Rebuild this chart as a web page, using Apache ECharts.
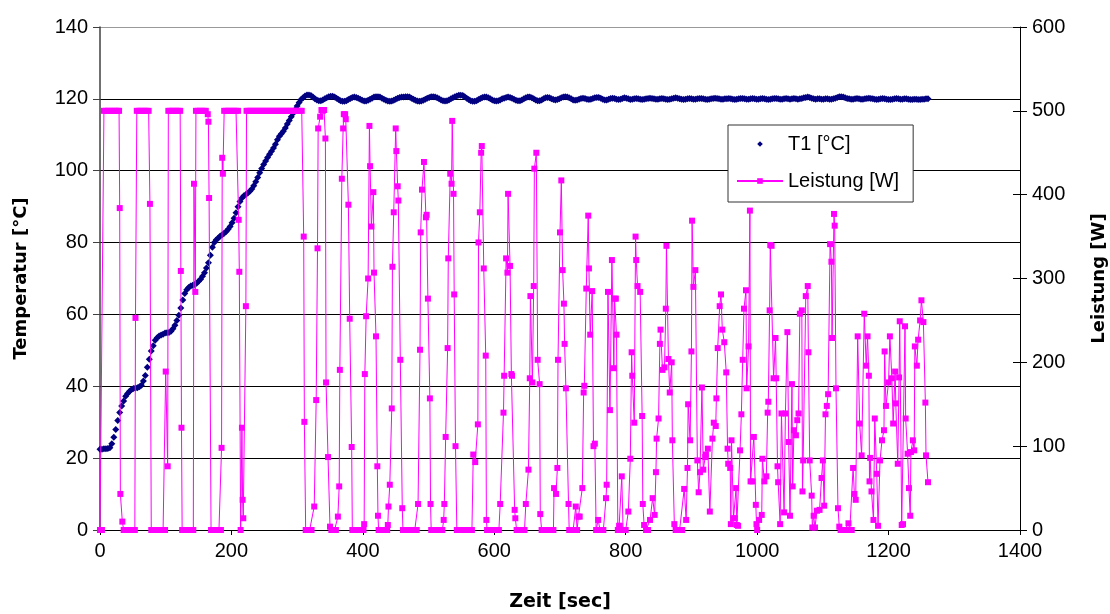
<!DOCTYPE html>
<html>
<head>
<meta charset="utf-8">
<script src="https://cdn.jsdelivr.net/npm/echarts@6/dist/echarts.min.js"></script>
<style>
html,body{margin:0;padding:0;background:#fff;}
#chart{width:1110px;height:614px;}
</style>
</head>
<body>
<div id="chart"></div>
<script>
// ---- data ----
const sampleInterval = 3; // seconds between T1 readings
const t1Values = [
22.5,22.5,22.6,22.6,22.7,22.9,24.0,25.8,28.0,30.5,
32.7,34.5,35.9,37.2,38.0,38.6,39.1,39.4,39.5,39.6,
39.9,40.3,41.5,43.0,45.3,47.5,49.8,51.3,52.8,53.5,
54.0,54.3,54.5,54.8,54.9,55.0,55.3,56.0,57.0,58.3,
59.8,61.8,64.0,65.8,66.9,67.5,67.9,68.1,68.3,68.7,
69.2,69.8,70.6,71.6,72.9,74.4,76.5,78.7,80.0,80.8,
81.3,81.8,82.2,82.6,83.1,83.7,84.5,85.5,86.8,88.3,
90.0,91.4,92.4,93.0,93.4,93.8,94.3,94.9,95.8,96.9,
98.1,99.4,100.6,101.7,102.7,103.7,104.6,105.4,106.3,107.4,
108.6,109.6,110.3,111.0,111.9,113.0,114.0,115.0,116.0,117.0,
118.0,119.0,119.8,120.3,120.8,121.1,121.1,120.9,120.5,120.0,
119.7,119.5,119.5,119.7,120.0,120.3,120.6,120.7,120.7,120.5,
120.2,119.8,119.5,119.3,119.3,119.5,119.8,120.1,120.4,120.5,
120.4,120.2,119.9,119.6,119.4,119.4,119.6,119.9,120.2,120.5,
120.6,120.6,120.5,120.2,119.9,119.6,119.4,119.3,119.4,119.6,
119.9,120.2,120.4,120.5,120.5,120.6,120.6,120.5,120.2,119.9,
119.6,119.4,119.3,119.4,119.6,119.9,120.2,120.4,120.6,120.6,
120.5,120.3,120.0,119.7,119.5,119.4,119.5,119.7,120.0,120.3,
120.6,120.8,121.0,121.0,120.9,120.6,120.2,119.8,119.5,119.3,
119.3,119.5,119.8,120.1,120.4,120.5,120.5,120.3,120.0,119.7,
119.5,119.4,119.5,119.7,120.0,120.2,120.4,120.5,120.4,120.2,
119.9,119.6,119.5,119.5,119.7,120.0,120.3,120.5,120.5,120.3,
120.0,119.7,119.5,119.5,119.7,120.0,120.3,120.4,120.3,120.0,
119.8,119.7,119.8,120.0,120.3,120.5,120.6,120.5,120.3,120.0,
119.7,119.6,119.7,119.9,120.1,120.2,120.1,119.9,119.8,119.9,
120.1,120.3,120.4,120.4,120.2,119.9,119.7,119.7,119.9,120.1,
120.2,120.1,119.9,119.8,119.9,120.1,120.3,120.2,120.0,119.8,
119.9,120.0,120.1,120.0,119.9,119.8,119.9,120.0,120.1,120.2,
120.1,120.0,119.9,119.9,120.0,120.1,120.0,119.9,119.8,119.9,
120.0,120.2,120.3,120.2,120.0,119.9,119.8,119.9,120.0,120.1,
120.0,119.9,119.9,120.0,120.1,120.1,120.0,119.9,119.8,119.9,
120.0,120.1,120.2,120.1,120.0,119.9,119.9,120.0,120.0,120.1,
120.0,119.9,119.8,119.9,120.0,120.1,120.1,120.0,119.9,119.9,
120.0,120.1,120.0,119.9,119.9,120.0,120.1,120.0,119.9,119.8,
119.9,120.0,120.1,120.1,120.0,119.9,119.9,120.0,120.1,120.0,
119.9,120.0,120.1,120.0,119.9,120.0,120.1,120.3,120.4,120.5,
120.4,120.2,120.0,119.9,120.0,120.0,119.9,119.9,120.0,120.0,
119.9,119.9,120.0,120.2,120.4,120.6,120.6,120.5,120.3,120.1,
120.0,119.9,119.9,120.0,120.1,120.0,119.9,119.9,120.0,120.1,
120.2,120.1,120.0,119.9,119.8,119.9,120.0,120.1,120.0,119.9,
119.8,119.8,119.9,120.0,120.1,120.0,119.9,119.9,120.0,120.0,
119.9,119.8,119.8,119.9,119.9,119.8,119.8,119.9,119.9,120.0,
120.0
];
// Leistung readings: [time s, power W]
const leistung = [
[0,0],[3,0],[6,500],[9,500],[12,500],[15,500],[18,500],[21,500],[24,500],[27,500],[29,500],[30,384],[31,43],[34,10],
[36,0],[39,0],[42,0],[45,0],[48,0],[51,0],[53,0],[54,253],[56,500],[59,500],[62,500],[65,500],[68,500],[71,500],[74,500],
[76,389],[78,0],[81,0],[84,0],[87,0],[90,0],[93,0],[96,0],[99,0],[100,189],[103,76],[104,500],[107,500],[110,500],[113,500],
[116,500],[119,500],[122,500],[123,309],[124,122],[125,0],[128,0],[131,0],[134,0],[137,0],[140,0],[142,0],[143,413],[145,284],
[146,500],[149,500],[152,500],[155,500],[158,500],[161,500],[164,496],[165,487],[166,396],[169,0],[172,0],[175,0],[178,0],
[181,0],[184,0],[185,98],[186,444],[187,425],[189,500],[192,500],[195,500],[198,500],[201,500],[204,500],[207,500],[210,500],
[211,370],[212,308],[214,0],[216,122],[217,36],[218,14],[222,267],[223,500],[226,500],[229,500],[232,500],[235,500],[238,500],
[241,500],[244,500],[247,500],[250,500],[253,500],[256,500],[259,500],[262,500],[265,500],[268,500],[271,500],[274,500],
[277,500],[280,500],[283,500],[286,500],[289,500],[292,500],[295,500],[298,500],[301,500],[304,500],[307,500],[310,350],
[311,129],[313,0],[316,0],[319,0],[322,0],
[326,28],[329,155],[331,336],[332,479],[335,493],[337,501],[339,500],[341,501],[343,467],[344,176],[347,87],[350,4],[352,0],
[355,0],[357,0],[359,0],[362,16],[364,52],[365,191],[368,419],[370,479],[371,496],[373,496],[374,490],[378,388],[380,252],
[383,99],[384,0],[387,0],[390,0],[393,0],[396,0],[399,0],[401,0],[402,7],[403,186],[405,255],[408,300],[410,482],[411,434],
[413,362],[416,403],[417,307],[420,231],[422,76],[423,17],
[424,0],[427,0],[430,0],[433,0],[436,0],[437,0],[438,6],[439,28],[441,54],[444,145],[445,314],[447,379],[450,479],[451,452],
[453,410],[454,393],[457,203],[460,26],[461,0],[464,0],[467,0],[470,0],[473,0],[476,0],[479,0],[482,0],[484,31],[487,215],
[488,355],[490,406],[493,439],[496,373],[497,376],[499,276],[502,157],[503,31],[504,0],[507,0],[510,0],[513,0],[516,0],
[519,0],[521,0],[523,12],[524,31],[526,111],[529,217],[530,324],[533,425],[535,413],[536,488],[538,401],[539,281],[541,100],
[543,0],[546,0],[549,0],[552,0],[555,0],[558,0],[561,0],[564,0],[566,0],[568,90],[571,81],[575,126],[576,343],[578,379],
[580,450],[581,458],[584,312],[587,208],[588,12],[589,0],[592,0],[595,0],[598,0],[601,0],[604,0],[607,0],[609,31],[614,140],
[615,184],[618,324],[620,307],[621,401],[624,315],[626,186],[627,184],[631,24],[632,14],[634,0],[637,0],[640,0],[643,0],
[646,0],[648,31],[652,72],[654,181],[655,279],[658,176],[660,291],[661,431],[664,450],[666,203],[669,174],[670,19],[672,0],
[675,0],[678,0],[681,0],[684,0],[687,0],[690,0],[691,50],[694,43],[696,74],[697,203],[700,355],[702,417],[704,310],[706,270],
[707,222],[709,169],[713,31],[714,0],[717,0],[720,0],[723,0],[724,28],[726,0],[728,16],[730,16],[734,50],[736,164],[737,172],
[740,288],[743,375],[744,312],[746,233],[749,285],[751,100],[753,103],[755,0],[758,12],[761,0],[764,0],[766,0],[770,38],
[771,54],[773,284],[776,143],[779,322],[782,193],[783,276],[785,276],[786,233],[788,0],[790,5],[791,5],[794,64],[796,0],
[800,0],[804,22],[807,85],[809,212],[810,184],[813,128],[815,350],[816,322],[818,291],[822,284],[825,136],[826,31],[828,6],
[831,0],[834,0],[837,12],[841,38],[844,18],[846,69],[847,109],[850,133],[852,222],[853,239],[856,191],[859,194],[861,264],
[862,339],[865,204],[867,164],[870,200],[871,107],[874,7],[876,0],[879,0],[882,0],[885,0],[886,0],[889,49],[892,12],[894,74],
[895,150],[898,107],[900,213],[901,369],[903,290],[906,310],[909,83],[911,45],[913,69],[916,170],[918,72],[921,87],[922,90],
[925,97],[928,22],[932,109],[934,128],[937,124],[938,157],[940,217],[943,267],[945,281],[947,239],[950,224],[953,188],
[955,97],[956,79],[959,74],[960,7],[961,107],[964,14],[966,14],[968,50],[969,6],[971,5],[974,95],[976,138],[978,203],
[980,264],[983,286],[984,169],[987,219],[989,381],[990,58],[993,58],[995,111],[998,30],[999,7],[1000,0],[1003,12],[1007,18],
[1008,85],[1011,58],[1014,64],[1016,140],[1017,153],[1019,262],[1020,340],[1022,339],[1025,181],[1028,229],[1029,181],
[1031,76],[1032,57],[1035,7],[1037,139],[1041,21],[1043,139],[1046,236],[1048,105],[1050,17],[1053,174],[1054,52],[1056,119],
[1059,113],[1061,131],[1063,139],[1065,258],[1068,262],[1069,46],[1070,83],[1074,279],[1077,291],[1078,212],[1080,83],
[1083,41],[1084,3],[1086,17],[1088,3],[1091,23],[1095,24],[1098,62],[1100,83],[1102,29],[1104,138],[1106,148],[1108,162],
[1111,341],[1113,320],[1114,229],[1117,377],[1118,363],[1120,169],[1123,26],[1125,4],[1127,0],[1130,0],[1133,0],[1136,0],
[1139,8],[1141,0],[1144,0],[1146,74],[1148,43],[1150,36],[1153,231],[1156,127],[1159,89],[1163,258],[1166,196],[1168,231],
[1170,184],[1171,58],[1172,86],[1174,46],[1177,12],[1179,133],[1182,67],[1184,5],[1187,83],[1190,107],[1193,119],[1194,213],
[1196,148],[1200,176],[1202,231],[1205,181],[1207,127],[1210,189],[1211,151],[1214,79],[1216,182],[1217,249],[1220,6],
[1222,7],[1225,243],[1226,133],[1229,91],[1231,50],[1233,17],[1234,93],[1237,107],[1239,95],[1240,219],[1243,196],[1245,227],
[1248,250],[1250,274],[1253,248],[1256,152],[1257,89],[1260,57]
];
const xTicks = {min: 0, max: 1400, interval: 200};
const tempTicks = {min: 0, max: 140, interval: 20};
const powerTicks = {min: 0, max: 600, interval: 100};
const seriesNames = ['T1 [°C]', 'Leistung [W]'];
const axisNames = {x: 'Zeit [sec]', left: 'Temperatur [°C]', right: 'Leistung [W]'};

// ---- chart ----
const t1Data = t1Values.map((v, i) => [i * sampleInterval, v]);
const plainNumber = v => String(v);
const tickFont = {fontFamily: "'Liberation Sans', Arial, sans-serif", fontSize: 20, color: '#000'};
const titleFont = {fontFamily: "'DejaVu Sans', sans-serif", fontWeight: 'bold', fontSize: 18, color: '#000'};

const chart = echarts.init(document.getElementById('chart'), null, {renderer: 'canvas'});
chart.setOption({
  animation: false,
  backgroundColor: '#ffffff',
  grid: {left: 100, right: 90, top: 27, bottom: 84, containLabel: false, outerBoundsMode: 'none'},
  xAxis: {
    type: 'value', min: xTicks.min, max: xTicks.max, interval: xTicks.interval,
    name: axisNames.x, nameLocation: 'middle', nameGap: 63, nameMoveOverlap: false,
    nameTextStyle: Object.assign({}, titleFont, {fontSize: 19}),
    axisLine: {show: true, onZero: false, lineStyle: {color: '#000', width: 1}},
    axisTick: {show: true, length: 5, lineStyle: {color: '#000'}},
    axisLabel: Object.assign({margin: 11, formatter: plainNumber}, tickFont),
    splitLine: {show: false}
  },
  yAxis: [
    {
      type: 'value', min: tempTicks.min, max: tempTicks.max, interval: tempTicks.interval, position: 'left',
      name: axisNames.left, nameLocation: 'middle', nameGap: 70, nameMoveOverlap: false, nameTextStyle: titleFont,
      axisLine: {show: true, lineStyle: {color: '#404040', width: 1.5}},
      axisTick: {show: true, length: 7, lineStyle: {color: '#404040'}},
      axisLabel: Object.assign({margin: 12, formatter: plainNumber}, tickFont),
      splitLine: {show: true, lineStyle: {width: 1, color: ['#000','#000','#000','#000','#000','#000','#000','#999']}}
    },
    {
      type: 'value', min: powerTicks.min, max: powerTicks.max, interval: powerTicks.interval, position: 'right',
      name: axisNames.right, nameLocation: 'middle', nameGap: 70, nameMoveOverlap: false, nameTextStyle: titleFont,
      axisLine: {show: true, lineStyle: {color: '#000', width: 1}},
      axisTick: {show: true, length: 7, lineStyle: {color: '#000'}},
      axisLabel: Object.assign({margin: 12, formatter: plainNumber}, tickFont),
      splitLine: {show: false}
    },
    {
      type: 'value', min: powerTicks.min, max: powerTicks.max, interval: powerTicks.interval, position: 'right',
      axisLine: {show: false},
      axisTick: {show: true, inside: true, length: 7, lineStyle: {color: '#000'}},
      axisLabel: {show: false},
      splitLine: {show: false}
    }
  ],
  legend: {
    orient: 'vertical', left: 728, top: 125,
    padding: [9, 14, 11, 8], itemGap: 17,
    itemWidth: 46, itemHeight: 7,
    backgroundColor: '#fff', borderColor: '#333', borderWidth: 1,
    textStyle: {fontFamily: "'Liberation Sans', Arial, sans-serif", fontSize: 20, color: '#000'},
    data: [{name: seriesNames[0]}, {name: seriesNames[1]}]
  },
  series: [
    {
      name: seriesNames[0], type: 'line', yAxisIndex: 0, data: t1Data,
      symbol: 'diamond', symbolSize: 7, showAllSymbol: true,
      lineStyle: {width: 0, opacity: 0},
      itemStyle: {color: '#000080'},
      z: 2
    },
    {
      name: seriesNames[1], type: 'line', yAxisIndex: 1, data: leistung,
      symbol: 'rect', symbolSize: 6, showAllSymbol: true,
      lineStyle: {width: 1, color: '#FF00FF'},
      itemStyle: {color: '#FF00FF'},
      z: 3
    }
  ]
});
</script>
</body>
</html>
